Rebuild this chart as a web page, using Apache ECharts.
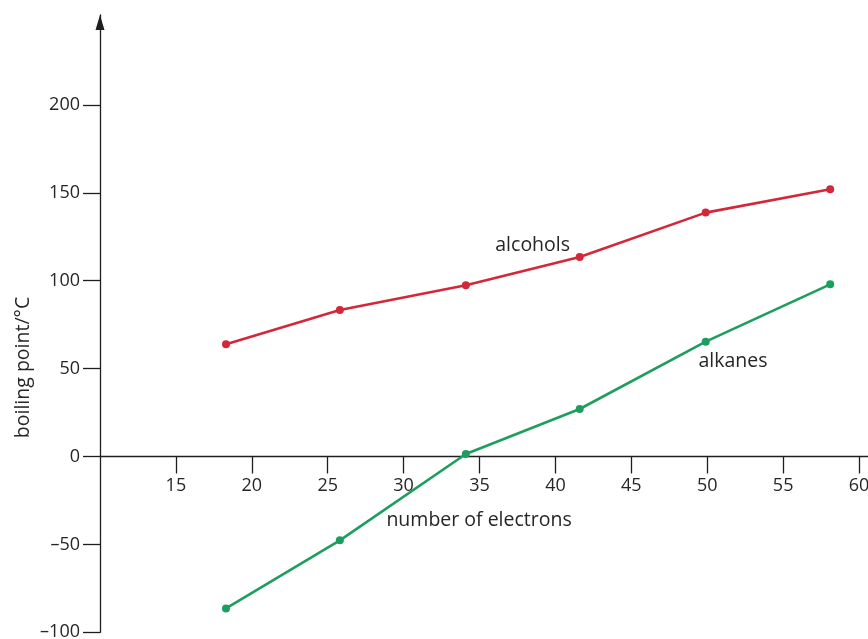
<!DOCTYPE html>
<html>
<head>
<meta charset="utf-8">
<script src="https://cdn.jsdelivr.net/npm/echarts@6/dist/echarts.min.js"></script>
<style>html,body{margin:0;padding:0;background:#fff}#c{width:868px;height:639px}</style>
</head>
<body>
<div id="c"></div>
<script>
// ---- data ----
const electrons = [18.3, 25.8, 34.1, 41.6, 49.9, 58.1];
const alcoholsBP = [63.8, 83.3, 97.4, 113.5, 138.7, 152.0];
const alkanesBP = [-86.4, -47.7, 1.4, 27.0, 65.3, 97.9];
const xTicks = [15, 20, 25, 30, 35, 40, 45, 50, 55, 60];
const yTicks = [-100, -50, 0, 50, 100, 150, 200];
const xTitle = 'number of electrons';
const yTitle = 'boiling point/°C';
// annotation anchors in data space
const annotations = [
  {text: 'alcohols', x: 38.5, y: 120.3},
  {text: 'alkanes', x: 51.7, y: 53.8},
  {text: xTitle, x: 34.97, y: -36.1}
];

const FONT = 'Open Sans';
const TXT = '#262626';
const AX = '#1e1e1e';
const RED = '#d3283a';
const GREEN = '#1e9e5e';

const chart = echarts.init(document.getElementById('c'), null, {renderer: 'canvas'});
const pairs = (xs, ys) => xs.map((x, i) => [x, ys[i]]);

chart.setOption({
  animation: false,
  backgroundColor: '#fff',
  grid: {left: 100, right: 0, top: 15, bottom: 6.7, containLabel: false, outerBoundsMode: 'none'},
  xAxis: {
    type: 'value', min: 10, max: 60.59, interval: 5, offset: 0,
    axisLine: {show: true, onZero: false, lineStyle: {color: AX, width: 1.3}},
    axisTick: {show: true, length: 17, inside: false, customValues: xTicks, lineStyle: {color: AX, width: 1.3}},
    axisLabel: {show: true, margin: 20, customValues: xTicks, color: TXT, fontFamily: FONT, fontSize: 18},
    splitLine: {show: false}
  },
  yAxis: {
    type: 'value', min: -100, max: 251.1, interval: 50,
    axisLine: {show: true, onZero: false, symbol: ['none', 'triangle'], symbolSize: [9, 15], symbolOffset: [0, -7.5],
      lineStyle: {color: AX, width: 1.3}},
    axisTick: {show: true, length: 17, inside: false, customValues: yTicks, lineStyle: {color: AX, width: 1.3}},
    axisLabel: {show: true, margin: 20, customValues: yTicks, color: TXT, fontFamily: FONT, fontSize: 18,
      formatter: v => (v < 0 ? '\u2013' + Math.abs(v) : String(v))},
    splitLine: {show: false}
  },
  series: [
    {name: 'alcohols', type: 'line', data: pairs(electrons, alcoholsBP), symbol: 'circle', symbolSize: 8,
     lineStyle: {color: RED, width: 2.6}, itemStyle: {color: RED}},
    {name: 'alkanes', type: 'line', data: pairs(electrons, alkanesBP), symbol: 'circle', symbolSize: 8,
     lineStyle: {color: GREEN, width: 2.6}, itemStyle: {color: GREEN}}
  ]
});

// move the x axis (line, ticks and labels) up to y = 0
const yZero = chart.convertToPixel({yAxisIndex: 0}, 0);
const yMin = chart.convertToPixel({yAxisIndex: 0}, -100);
chart.setOption({xAxis: {offset: yZero - yMin}});

const g = annotations.map(a => {
  const p = chart.convertToPixel({gridIndex: 0}, [a.x, a.y]);
  return {type: 'text', x: p[0], y: p[1], style: {text: a.text, fill: TXT, font: '19.5px "' + FONT + '"', align: 'center', verticalAlign: 'middle'}};
});
g.push({type: 'text', x: 23, y: 367.5, rotation: Math.PI / 2,
  style: {text: yTitle, fill: TXT, font: '19.5px "' + FONT + '"', align: 'center', verticalAlign: 'middle'}});
chart.setOption({graphic: g});
</script>
</body>
</html>
